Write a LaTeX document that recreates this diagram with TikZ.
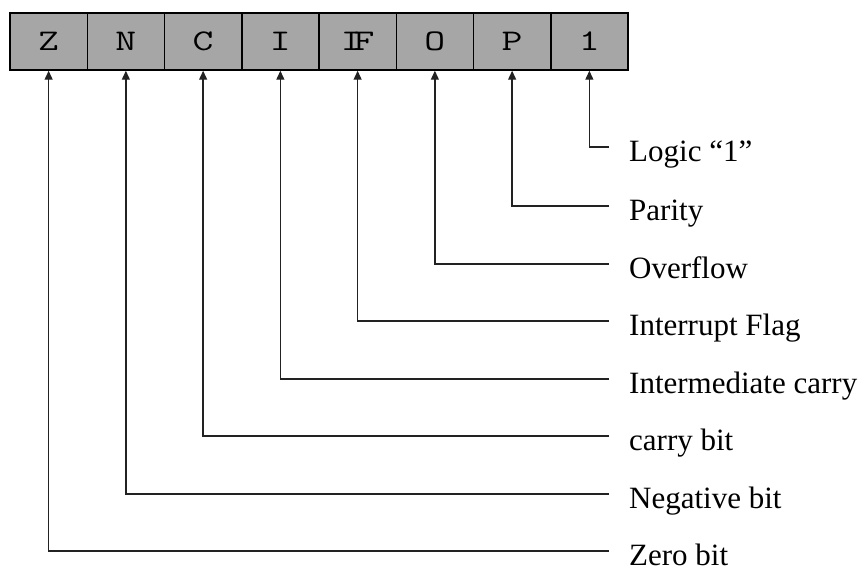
\documentclass[tikz,border=0pt]{standalone}
\usepackage{fontspec}
\setmainfont{Liberation Serif}
\setmonofont{Latin Modern Mono}
\usetikzlibrary{arrows.meta}
\definecolor{cellgray}{HTML}{A6A6A6}
\definecolor{linegray}{HTML}{222222}
\newcommand{\celltext}[1]{\scalebox{1.35}[1]{\ttfamily\fontsize{30}{32}\selectfont #1}}
\tikzset{
  regcell/.style={draw=black, line width=1.5pt, fill=cellgray, minimum width=77.25pt, minimum height=57pt, inner sep=0pt},
  lbl/.style={anchor=base west, inner sep=0pt, font=\fontsize{31}{31}\selectfont},
  conn/.style={draw=linegray, line width=1.4pt, -{Triangle[length=9pt,width=8pt]}}
}
\begin{document}
\begin{tikzpicture}[x=1pt,y=-1pt]
\useasboundingbox (0,0) rectangle (865,567);
\foreach \bitname [count=\i] in {Z,N,C,I,{I\kern-0.2em F},O,P,1} {
  \node[regcell] (c\i) at ({10+77.25*(\i-0.5)},41.5) {\celltext{\bitname}};
}
\foreach \lab/\y/\i in {{Logic “1”}/147/8, Parity/206/7, Overflow/264/6, {Interrupt Flag}/321/5, {Intermediate carry}/379/4, {carry bit}/436/3, {Negative bit}/494/2, {Zero bit}/551/1} {
  \coordinate (e\i) at (609,\y);
  \node[lbl] (l\i) at (629,\y+14) {\lab};
  \draw[conn] (e\i) -| (c\i.south);
}
\end{tikzpicture}
\end{document}
